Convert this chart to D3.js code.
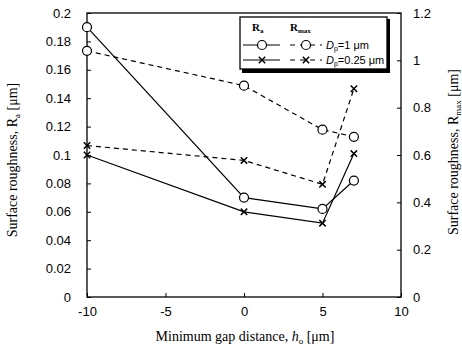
<!DOCTYPE html>
<html>
<head>
<meta charset="utf-8">
<script src="https://cdn.jsdelivr.net/npm/d3@7"></script>
<style>
body { margin: 0; background: #fff; }
svg text { fill: #000; }
</style>
</head>
<body>
<svg id="chart" width="462" height="355"></svg>
<script>
// data
var gap = [-10, 0, 5, 7]
var raD1 = [0.19, 0.07, 0.062, 0.082]
var raD025 = [0.1, 0.06, 0.052, 0.101]
var rmaxD1 = [1.04, 0.893, 0.707, 0.677]
var rmaxD025 = [0.64, 0.577, 0.476, 0.88]
var xTicks = [-10, -5, 0, 5, 10]
var yLeftTicks = [0, 0.02, 0.04, 0.06, 0.08, 0.1, 0.12, 0.14, 0.16, 0.18, 0.2]
var yRightTicks = [0, 0.2, 0.4, 0.6, 0.8, 1, 1.2]

var svg = d3.select("#chart")
var pLeft = 87, pRight = 401, pTop = 13, pBottom = 297

var x = d3.scaleLinear().domain([-10, 10]).range([pLeft, pRight])
var yL = d3.scaleLinear().domain([0, 0.2]).range([pBottom, pTop])
var yR = d3.scaleLinear().domain([0, 1.2]).range([pBottom, pTop])

var sans = "Liberation Sans, Arial, sans-serif"
var serif = "Liberation Serif, Times New Roman, serif"

// frame
svg.append("rect").attr("x", pLeft).attr("y", pTop)
  .attr("width", pRight - pLeft).attr("height", pBottom - pTop)
  .attr("fill", "none").attr("stroke", "#000").attr("stroke-width", 1.3)

function styleAxis(g) {
  g.select(".domain").remove()
  g.selectAll("line").attr("stroke", "#000").attr("stroke-width", 1)
  g.selectAll("text").attr("font-family", sans).attr("font-size", 13).attr("fill", "#000")
}

svg.append("g").attr("transform", "translate(0," + pBottom + ")")
  .call(d3.axisBottom(x).tickValues(xTicks).tickSizeInner(-4).tickSizeOuter(0).tickPadding(10).tickFormat(function(d){ return String(d) }))
  .call(styleAxis)

svg.append("g").attr("transform", "translate(" + pLeft + ",0)")
  .call(d3.axisLeft(yL).tickValues(yLeftTicks).tickSizeInner(-4).tickSizeOuter(0).tickPadding(16).tickFormat(function(d){ return String(+d.toFixed(2)) }))
  .call(styleAxis)

svg.append("g").attr("transform", "translate(" + pRight + ",0)")
  .call(d3.axisRight(yR).tickValues(yRightTicks).tickSizeInner(-4).tickSizeOuter(0).tickPadding(12).tickFormat(function(d){ return String(+d.toFixed(1)) }))
  .call(styleAxis)

// axis titles
var bt = svg.append("text").attr("x", 245).attr("y", 341).attr("text-anchor", "middle")
  .attr("font-family", serif).attr("font-size", 14)
bt.append("tspan").text("Minimum gap distance, ")
bt.append("tspan").attr("font-style", "italic").text("h")
bt.append("tspan").attr("font-size", 9).attr("dy", 3).text("o")
bt.append("tspan").attr("dy", -3).text(" [\u03bcm]")

var lt = svg.append("text").attr("transform", "translate(17,160) rotate(-90)").attr("text-anchor", "middle")
  .attr("font-family", serif).attr("font-size", 14)
lt.append("tspan").text("Surface roughness, R")
lt.append("tspan").attr("font-size", 9).attr("dy", 3).text("a")
lt.append("tspan").attr("dy", -3).text(" [\u03bcm]")

var rt = svg.append("text").attr("transform", "translate(458,152) rotate(-90)").attr("text-anchor", "middle")
  .attr("font-family", serif).attr("font-size", 14)
rt.append("tspan").text("Surface roughness, R")
rt.append("tspan").attr("font-size", 9).attr("dy", 3).text("max")
rt.append("tspan").attr("dy", -3).text(" [\u03bcm]")

// series
var series = [
  { vals: raD1, y: yL, dash: null, mark: "circle" },
  { vals: raD025, y: yL, dash: null, mark: "cross" },
  { vals: rmaxD1, y: yR, dash: "5,4", mark: "circle" },
  { vals: rmaxD025, y: yR, dash: "5,4", mark: "cross" }
]

function drawMark(g, mark, cx, cy) {
  if (mark === "circle") {
    g.append("circle").attr("cx", cx).attr("cy", cy).attr("r", 4.5)
      .attr("fill", "#fff").attr("stroke", "#000").attr("stroke-width", 1.2)
  } else {
    var s = 3.2
    g.append("path").attr("d", "M" + (cx - s) + "," + (cy - s) + "L" + (cx + s) + "," + (cy + s) +
      "M" + (cx - s) + "," + (cy + s) + "L" + (cx + s) + "," + (cy - s))
      .attr("stroke", "#000").attr("stroke-width", 1.5).attr("fill", "none")
  }
}

series.forEach(function(s) {
  var pts = gap.map(function(g, i) { return [x(g), s.y(s.vals[i])] })
  svg.append("path").datum(pts).attr("d", d3.line())
    .attr("fill", "none").attr("stroke", "#000").attr("stroke-width", 1.2)
    .attr("stroke-dasharray", s.dash)
  var mg = svg.append("g")
  pts.forEach(function(p) { drawMark(mg, s.mark, p[0], p[1]) })
})

// legend
var lg = svg.append("g").attr("transform", "translate(240,17)")
lg.append("rect").attr("x", 2).attr("y", 2).attr("width", 148).attr("height", 54).attr("fill", "#000")
lg.append("rect").attr("x", 0).attr("y", 0).attr("width", 147).attr("height", 52)
  .attr("fill", "#fff").attr("stroke", "#000").attr("stroke-width", 1.3)

var h1 = lg.append("text").attr("x", 12).attr("y", 14).attr("font-family", serif).attr("font-size", 11).attr("font-weight", "bold")
h1.append("tspan").text("R")
h1.append("tspan").attr("font-size", 7).attr("dy", 2).text("a")
var h2 = lg.append("text").attr("x", 50).attr("y", 14).attr("font-family", serif).attr("font-size", 11).attr("font-weight", "bold")
h2.append("tspan").text("R")
h2.append("tspan").attr("font-size", 7).attr("dy", 2).text("max")

var legRows = [
  { mark: "circle", label: "=1 \u03bcm", y: 28 },
  { mark: "cross", label: "=0.25 \u03bcm", y: 43 }
]
legRows.forEach(function(r) {
  lg.append("line").attr("x1", 3).attr("x2", 40).attr("y1", r.y).attr("y2", r.y)
    .attr("stroke", "#000").attr("stroke-width", 1.2)
  drawMark(lg, r.mark, 22, r.y)
  lg.append("line").attr("x1", 50).attr("x2", 82).attr("y1", r.y).attr("y2", r.y)
    .attr("stroke", "#000").attr("stroke-width", 1.2).attr("stroke-dasharray", "5,5")
  drawMark(lg, r.mark, 66, r.y)
  var t = lg.append("text").attr("x", 86).attr("y", r.y + 4).attr("font-family", sans).attr("font-size", 11)
  t.append("tspan").attr("font-style", "italic").text("D")
  t.append("tspan").attr("font-size", 7).attr("dy", 2).text("p")
  t.append("tspan").attr("dy", -2).text(r.label)
})
</script>
</body>
</html>
